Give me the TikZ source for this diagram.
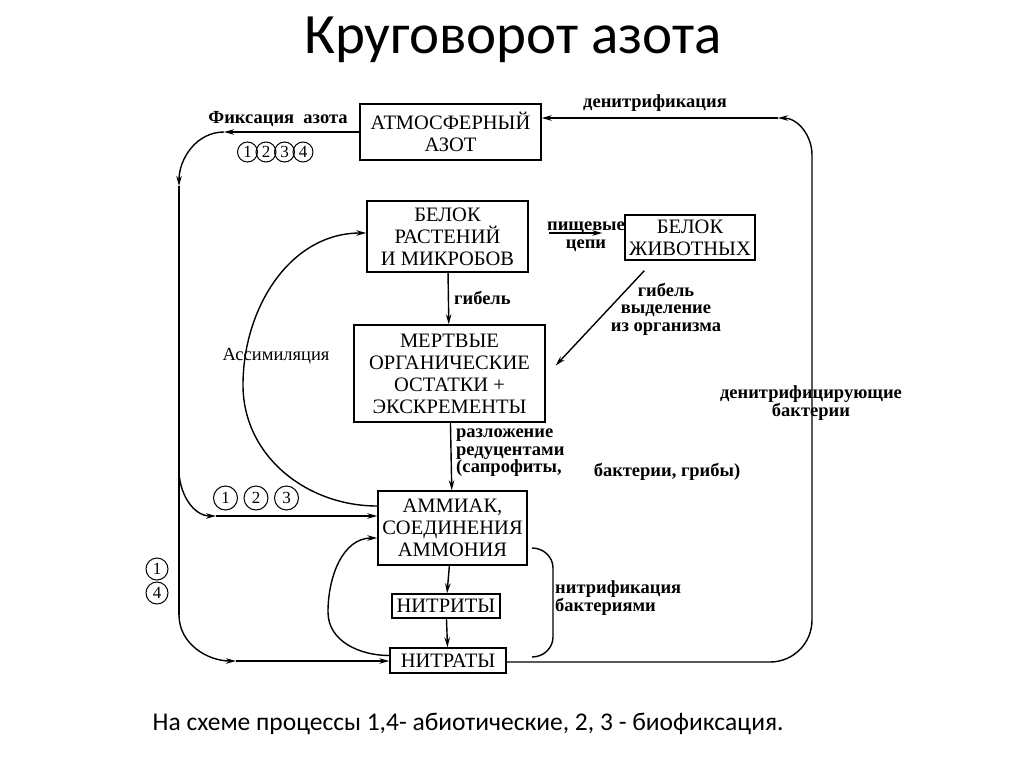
\documentclass[tikz,border=0pt]{standalone}
\usepackage{fontspec}
\setmainfont{Liberation Serif}
\newfontfamily\slidefont{Carlito}
\usetikzlibrary{arrows.meta}

\begin{document}
\begin{tikzpicture}[x=1pt, y=-1pt, >={Stealth[length=10pt,width=5.5pt]},
  bx/.style={draw, line width=1.4pt, inner sep=0pt, align=center,
             font=\fontsize{20.5}{22}\selectfont},
  lbl/.style={inner sep=0pt, align=center, font=\bfseries\fontsize{18.5}{17.5}\selectfont},
  num/.style={draw, circle, line width=1pt, minimum size=20pt, inner sep=0pt,
              font=\fontsize{17}{17}\selectfont},
  s/.style={->, line width=1.4pt},
  ln/.style={line width=1.4pt}]
\useasboundingbox (0,0) rectangle (1024,767);
% Title and note.
\node[font=\slidefont\fontsize{57}{57}\selectfont] (title) at (513,40) {Круговорот азота};
\node[font=\slidefont\fontsize{25.5}{25.5}\selectfont] (note) at (468,724)
  {На схеме процессы 1,4- абиотические, 2, 3 - биофиксация.};
% Boxes of the cycle.
\node[bx, minimum width=181pt, minimum height=56pt] (atm) at (450.5,132) {АТМОСФЕРНЫЙ\\АЗОТ};
\node[bx, minimum width=161pt, minimum height=71pt] (plants) at (447.5,236.5) {БЕЛОК\\РАСТЕНИЙ\\И МИКРОБОВ};
\node[bx, minimum width=130pt, minimum height=45pt] (animals) at (690,237.5) {БЕЛОК\\ЖИВОТНЫХ};
\node[bx, minimum width=191pt, minimum height=97pt] (dead) at (449.5,373.5)
  {МЕРТВЫЕ\\ОРГАНИЧЕСКИЕ\\ОСТАТКИ +\\ЭКСКРЕМЕНТЫ};
\node[bx, minimum width=149pt, minimum height=74pt] (amm) at (452.5,528) {АММИАК,\\СОЕДИНЕНИЯ\\АММОНИЯ};
\node[bx, minimum width=108pt, minimum height=24pt] (nitrites) at (446,606) {НИТРИТЫ};
\node[bx, minimum width=116pt, minimum height=25pt] (nitrates) at (448,660.5) {НИТРАТЫ};
% Corner points of the outer loops.
\coordinate (fx) at (224,132);
\coordinate (lt) at (179,186);
\coordinate (lb) at (179,615);
\coordinate (nb) at (236,661);
\coordinate (ab) at (216,516);
\coordinate (rb) at (770,662);
\coordinate (rt) at (812,155);
\coordinate (dn) at (778,118);
% Labels.
\node[lbl] (fixlbl) at (278,119) {Фиксация\ \ азота};
\foreach \n in {1,...,4}
  \node[num] (f\n) at (229+18.5*\n,152) {\n};
\node[lbl] (denlbl) at (655,103) {денитрификация};
\node[lbl] (foodlbl) at (586,237) {пищевые\\цепи};
\node[lbl, anchor=west] (deathlbl) at (454,298) {гибель};
\node[lbl] (exclbl) at (666,309) {гибель\\выделение\\из организма};
\node[inner sep=0pt, font=\fontsize{18.5}{17.5}\selectfont] (asslbl) at (276,356) {Ассимиляция};
\node[lbl, anchor=west, align=left] (declbl) at (456,453) {разложение\\редуцентами\\(сапрофиты,};
\node[lbl] (declbl2) at (667,472) {бактерии, грибы)};
\foreach \n [count=\i] in {1,2,3}
  \node[num, minimum size=24pt] (a\n) at (195+30.5*\i,498) {\n};
\node[num, minimum size=22pt] (l1) at (157,569) {1};
\node[num, minimum size=22pt] (l4) at (157,593) {4};
\node[lbl, anchor=west, align=left] (nitlbl) at (555,598) {нитрификация\\бактериями};
\node[lbl] (dbactlbl) at (811,403) {денитрифицирующие\\бактерии};
% Inner arrows.
\draw[s] (plants) -- (dead);
\draw[s] (dead) -- (amm);
\draw[s] (amm) -- (nitrites);
\draw[s] (nitrites) -- (nitrates);
\draw[s, shorten <=20pt, shorten >=22pt] (plants.east |- 0,233) -- (animals.west |- 0,233);
\draw[s] ([shift={(20,10)}]animals.south west) -- ([shift={(10,-8)}]dead.east);
\draw[s] ([yshift=22pt]amm.west) to[out=180,in=270] (243,385) to[out=90,in=180] (plants.west |- 0,233);
\draw[s] ([yshift=5pt]nitrates.west) to[out=180,in=270] (328,612) to[out=90,in=180] (amm.west |- 0,538);
% Nitrification bracket.
\draw[ln] (532,548) to[out=0,in=90] (553,568) -- (553,637) to[out=270,in=0] (532,657);
% Fixation: left loop.
\draw[s] (atm.west) -- (fx);
\draw[s] (fx) to[out=180,in=90] (lt);
\draw[ln] (lt) -- (lb);
\draw[s] (lb) to[out=270,in=180] (nb);
\draw[s] (nb) -- (nitrates.west |- nb);
\draw[s] (179,470) to[out=270,in=180] (ab);
\draw[s] (ab) -- (amm.west |- ab);
% Denitrification: right loop.
\draw[ln] (nitrates.east |- rb) -- (rb) to[out=0,in=270] (812,620) -- (rt);
\draw[s] (rt) to[out=90,in=0] (dn);
\draw[s] (dn) -- (dn -| atm.east);
\end{tikzpicture}
\end{document}
